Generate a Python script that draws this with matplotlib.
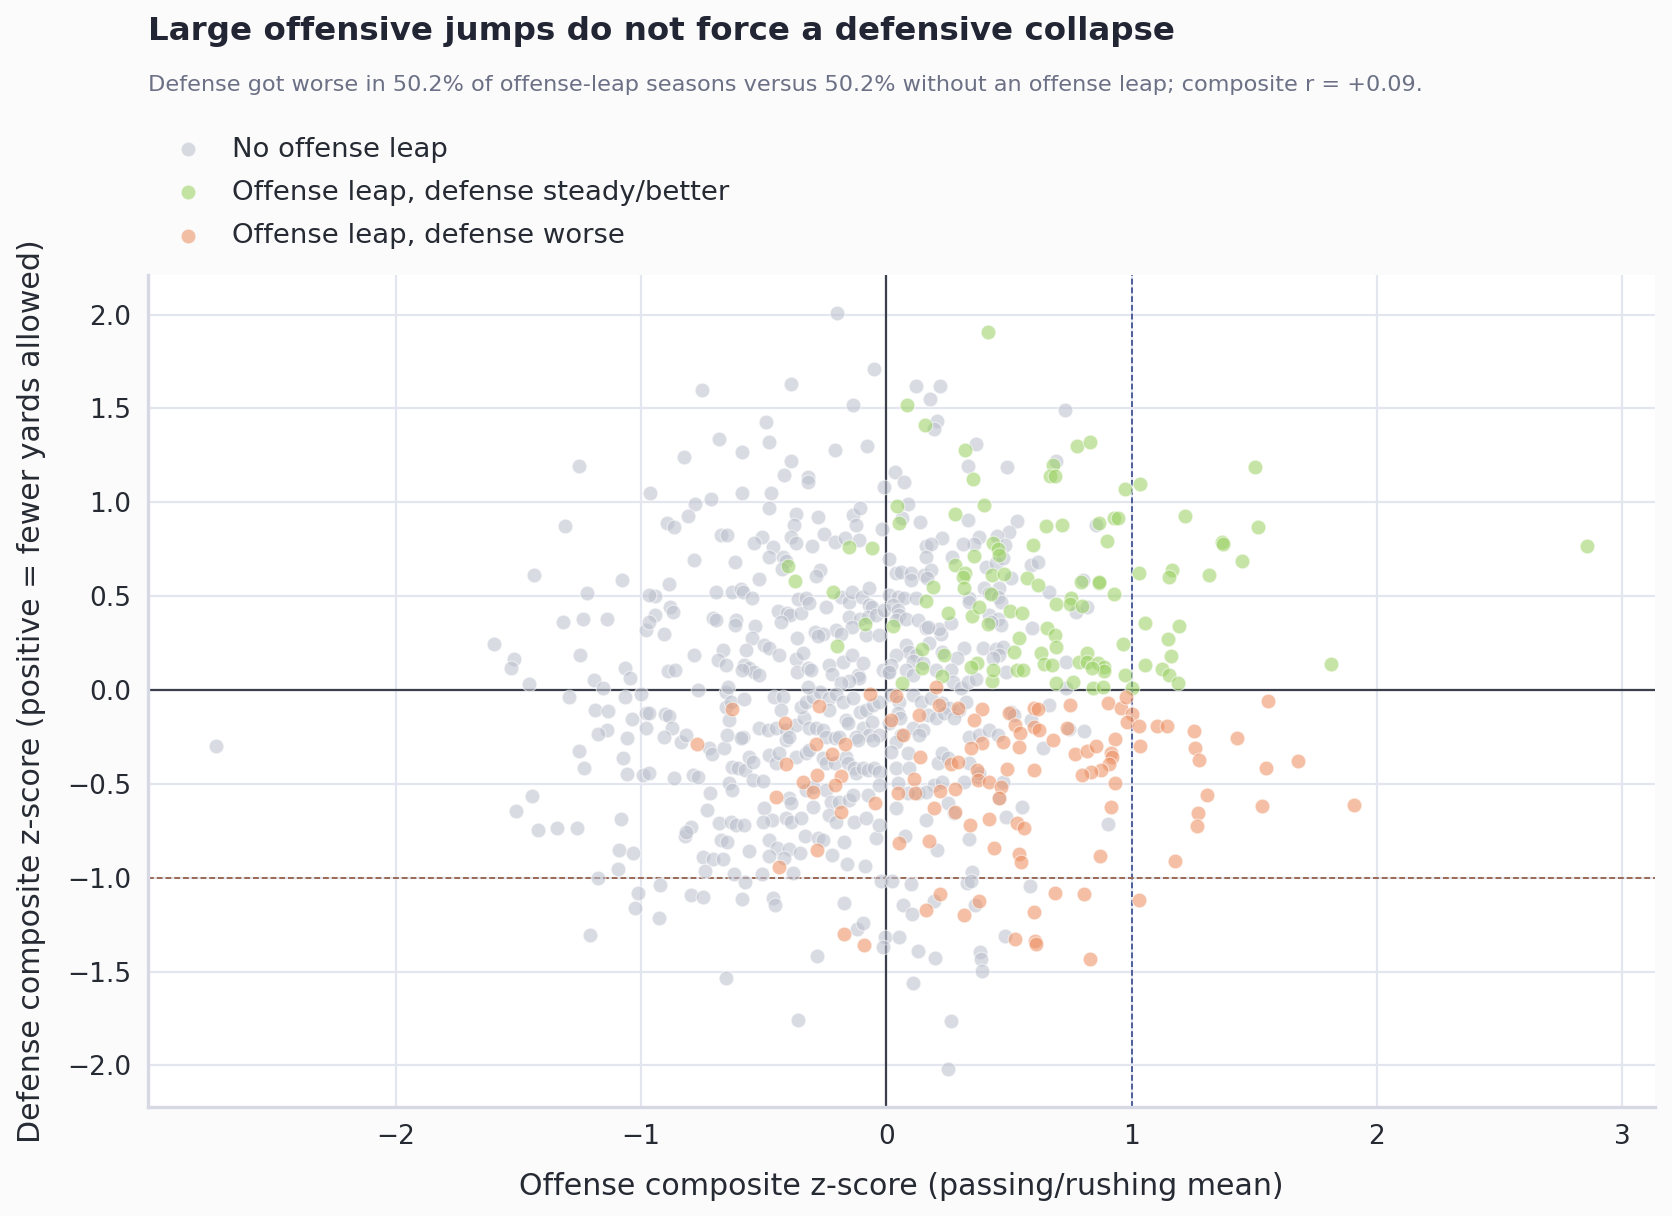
import matplotlib.pyplot as plt
import numpy as np

# (offense z, defense z) per team-season
no_leap_points = [
    (-0.20, 2.01), (-0.05, 1.71), (-0.75, 1.60), (-0.39, 1.63), (0.12, 1.62), (0.22, 1.62), (0.18, 1.55),
    (-0.135, 1.52), (-0.49, 1.43), (0.73, 1.49), (0.205, 1.435), (0.195, 1.39), (-0.68, 1.34), (-0.48, 1.32),
    (-0.825, 1.24), (-0.59, 1.27), (-0.21, 1.28), (-0.08, 1.30), (0.364, 1.31), (-0.39, 1.22), (0.333, 1.195),
    (0.49, 1.19), (0.69, 1.22), (-0.417, 1.145), (-0.32, 1.135), (-0.32, 1.11), (0.034, 1.16), (0.073, 1.106),
    (-0.008, 1.08), (-0.963, 1.05), (-0.587, 1.05), (-0.47, 1.05), (-0.715, 1.02), (-0.78, 0.99), (-0.48, 0.97),
    (0.09, 0.99), (-0.81, 0.927), (-0.894, 0.888), (-0.865, 0.869), (-0.366, 0.94), (-0.377, 0.879),
    (-0.277, 0.92), (-0.137, 0.93), (-0.106, 0.97), (-0.125, 0.88), (-0.018, 0.86), (0.066, 0.915),
    (0.136, 0.894), (0.331, 0.906), (0.534, 0.90), (0.50, 0.84), (0.378, 0.813), (0.45, 0.82), (0.855, 0.88),
    (0.484, 0.772), (0.357, 0.78), (0.313, 0.78), (0.228, 0.81), (0.16, 0.768), (0.183, 0.78), (-0.675, 0.826),
    (-0.65, 0.826), (-0.507, 0.813), (-0.54, 0.785), (-0.463, 0.763), (-0.39, 0.818), (-0.37, 0.786),
    (-0.304, 0.77), (-0.252, 0.83), (-0.208, 0.79), (-0.17, 0.81), (-0.11, 0.80),
    (-1.253, 1.195), (-1.31, 0.875),
    (-1.435, 0.613), (-1.079, 0.586), (-1.22, 0.515), (-0.944, 0.50), (-1.317, 0.362), (-1.238, 0.38),
    (-1.138, 0.38), (-0.98, 0.32), (-1.597, 0.243), (-1.519, 0.163), (-1.53, 0.12), (-1.247, 0.185),
    (-1.067, 0.12), (-1.046, 0.065), (-1.193, 0.052), (-1.155, 0.011), (-1.455, 0.034), (-1.292, -0.035),
    (-1.067, -0.039), (-1.0, -0.02), (-1.186, -0.105), (-1.134, -0.11), (-0.98, -0.12), (-1.035, -0.155),
    (-0.98, -0.204), (-1.137, -0.211), (-1.176, -0.236), (-1.057, -0.257), (-2.73, -0.296), (-1.252, -0.325),
    (-1.075, -0.364), (-1.233, -0.417), (-1.056, -0.447), (-0.99, -0.452), (-1.442, -0.565), (-1.508, -0.646),
    (-1.08, -0.686), (-1.418, -0.745), (-1.344, -0.737), (-1.26, -0.737),
    (-1.09, -0.85), (-1.031, -0.867), (-1.092, -0.955), (-1.174, -1.003), (-1.012, -1.08), (-1.026, -1.16),
    (-1.207, -1.304),
    (-0.82, -0.78), (-0.674, -0.80), (-0.65, -0.81), (-0.558, -0.858), (-0.477, -0.80), (-0.447, -0.843),
    (-0.398, -0.847), (-0.35, -0.867), (-0.417, -0.897), (-0.479, -0.883), (-0.749, -0.891), (-0.708, -0.9),
    (-0.665, -0.9), (-0.222, -0.879), (-0.172, -0.808), (-0.33, -0.78), (-0.28, -0.79), (-0.26, -0.80),
    (-0.04, -0.787), (-0.74, -0.962), (-0.62, -0.982), (-0.507, -0.98), (-0.382, -0.973), (-0.159, -0.929),
    (-0.086, -0.938), (-0.923, -1.039), (-0.576, -1.023), (-0.795, -1.094), (-0.746, -1.103), (-0.59, -1.115),
    (-0.462, -1.11), (-0.453, -1.146), (-0.174, -1.133), (-0.925, -1.213), (-0.02, -1.018), (0.023, -1.016),
    (0.102, -1.035), (0.076, -0.778), (0.205, -0.853), (0.338, -0.796), (0.349, -0.968), (0.329, -1.027),
    (0.345, -1.018), (0.587, -1.043), (0.194, -1.124), (0.362, -1.146), (0.069, -1.146), (0.105, -1.192),
    (-0.119, -1.275), (-0.094, -1.241), (-0.004, -1.314), (-0.014, -1.369), (0.052, -1.314), (-0.284, -1.417),
    (0.128, -1.389), (0.198, -1.43), (0.484, -1.309), (0.383, -1.395), (0.386, -1.433), (0.391, -1.495),
    (-0.655, -1.532), (0.109, -1.562), (-0.36, -1.76), (0.263, -1.765), (0.251, -2.02),
    (-0.785, 0.695), (-0.618, 0.68), (-0.477, 0.71), (-0.423, 0.71), (-0.41, 0.69), (-0.425, 0.645),
    (-0.27, 0.64), (-0.286, 0.61), (-0.519, 0.59), (-0.887, 0.563), (-0.694, 0.524), (-0.627, 0.524),
    (-0.593, 0.54), (-0.586, 0.524), (-0.549, 0.492), (-0.966, 0.505), (-0.882, 0.443), (-0.871, 0.417),
    (-0.942, 0.40), (-0.966, 0.364), (-0.907, 0.296), (-0.708, 0.385), (-0.694, 0.372), (-0.613, 0.372),
    (-0.616, 0.346), (-0.537, 0.343), (-0.44, 0.42), (-0.403, 0.408), (-0.392, 0.40), (-0.348, 0.413),
    (-0.429, 0.364), (-0.36, 0.483), (-0.327, 0.488), (-0.314, 0.462), (-0.246, 0.44), (-0.185, 0.497),
    (-0.151, 0.47), (-0.14, 0.524), (-0.10, 0.497), (-0.072, 0.542), (-0.07, 0.453), (-0.06, 0.44),
    (-0.151, 0.39), (-0.108, 0.381), (-0.076, 0.39), (-0.042, 0.40), (-0.008, 0.426), (-0.14, 0.337),
    (-0.205, 0.319), (-0.185, 0.301), (-0.29, 0.31), (-0.26, 0.30), (-0.28, 0.29), (-0.364, 0.275),
    (-0.083, 0.293), (-0.028, 0.293), (-0.548, 0.279), (-0.665, 0.213), (-0.57, 0.213), (-0.497, 0.239),
    (-0.477, 0.222), (-0.439, 0.186), (-0.783, 0.186), (-0.686, 0.16), (-0.653, 0.133), (-0.58, 0.133),
    (-0.558, 0.115), (-0.538, 0.094), (-0.589, 0.106), (-0.52, 0.08), (-0.89, 0.101), (-0.862, 0.106),
    (-0.368, 0.168), (-0.34, 0.195), (-0.365, 0.097), (-0.32, 0.115), (-0.307, 0.106), (-0.233, 0.133),
    (-0.221, 0.088), (-0.178, 0.151), (-0.14, 0.186), (-0.117, 0.08), (-0.11, 0.062), (-0.153, 0.048),
    (-0.185, 0.035), (-0.096, 0.142), (-0.015, 0.106), (0.005, 0.097), (-0.769, 0.0), (-0.652, -0.01),
    (-0.644, 0.015), (-0.655, -0.089), (-0.634, -0.062), (-0.579, -0.05), (-0.64, -0.16), (-0.90, -0.13),
    (-0.884, -0.14), (-0.966, -0.12), (-0.874, -0.20), (-0.905, -0.248), (-0.838, -0.275), (-0.817, -0.24),
    (-0.722, -0.31), (-0.709, -0.343), (-0.66, -0.31), (-0.651, -0.24), (-0.586, -0.248), (-0.593, -0.257),
    (-0.518, -0.204), (-0.484, -0.213), (-0.457, -0.035), (-0.423, -0.035), (-0.429, -0.107), (-0.449, -0.204),
    (-0.41, -0.213), (-0.368, -0.186), (-0.334, -0.15), (-0.348, -0.089), (-0.327, -0.062), (-0.30, -0.035),
    (-0.27, -0.008), (-0.32, 0.017), (-0.233, -0.044), (-0.205, -0.022), (-0.178, -0.062), (-0.137, -0.044),
    (-0.235, -0.107), (-0.164, -0.16), (-0.157, -0.178), (-0.313, -0.204), (-0.286, -0.204), (-0.26, -0.213),
    (-0.109, -0.115), (-0.082, -0.107), (-0.055, -0.08), (-0.028, -0.062), (-0.096, -0.204), (-0.058, -0.169),
    (-0.069, -0.24), (-0.028, -0.24), (-0.124, -0.248), (-0.117, -0.266), (-0.056, -0.266), (-0.245, -0.248),
    (-0.211, -0.257), (-0.191, -0.248), (-0.41, -0.266), (-0.396, -0.248), (-0.477, -0.346), (-0.449, -0.39),
    (-0.436, -0.337), (-0.368, -0.355), (-0.327, -0.337), (-0.314, -0.319), (-0.26, -0.364), (-0.245, -0.39),
    (-0.211, -0.39), (-0.164, -0.355), (-0.157, -0.39), (-0.13, -0.417), (-0.124, -0.444), (-0.096, -0.417),
    (-0.076, -0.426), (-0.049, -0.417), (-0.028, -0.435), (-0.63, -0.408), (-0.606, -0.417), (-0.575, -0.426),
    (-0.558, -0.355), (-0.542, -0.381), (-0.789, -0.453), (-0.769, -0.462), (-0.864, -0.467), (-0.966, -0.444),
    (-0.64, -0.497), (-0.629, -0.532), (-0.72, -0.55), (-0.542, -0.48), (-0.504, -0.483), (-0.396, -0.577),
    (-0.389, -0.604), (-0.327, -0.532), (-0.30, -0.515), (-0.245, -0.532), (-0.225, -0.595), (-0.191, -0.595),
    (-0.151, -0.586), (-0.137, -0.559), (-0.076, -0.56), (-0.028, -0.506), (-0.731, -0.639), (-0.497, -0.626),
    (-0.467, -0.692), (-0.501, -0.701), (-0.41, -0.683), (-0.389, -0.701), (-0.348, -0.683), (-0.30, -0.621),
    (-0.232, -0.666), (-0.205, -0.701), (-0.13, -0.701), (-0.082, -0.683), (-0.796, -0.728), (-0.817, -0.755),
    (-0.68, -0.71), (-0.633, -0.701), (-0.613, -0.719), (-0.579, -0.719), (-0.028, -0.719),
    (0.012, 0.698), (0.039, 0.622), (0.06, 0.63), (0.10, 0.622), (0.10, 0.586), (0.16, 0.711), (0.155, 0.613),
    (0.182, 0.639), (0.165, 0.595), (0.268, 0.711), (0.406, 0.657), (0.447, 0.675), (0.474, 0.702),
    (0.508, 0.595), (0.59, 0.666), (0.617, 0.684), (0.399, 0.545), (0.46, 0.542), (0.42, 0.515), (0.454, 0.497),
    (0.467, 0.47), (0.338, 0.488), (0.338, 0.47), (0.012, 0.506), (0.046, 0.497), (0.073, 0.488), (0.12, 0.488),
    (0.026, 0.453), (0.046, 0.426), (0.053, 0.40), (0.039, 0.372), (0.08, 0.381), (0.128, 0.372), (0.42, 0.399),
    (0.454, 0.381), (0.467, 0.346), (0.427, 0.364), (0.664, 0.524), (0.773, 0.417), (0.82, 0.444),
    (0.594, 0.328), (0.162, 0.328), (0.222, 0.301), (0.216, 0.324), (0.264, 0.355), (0.393, 0.225),
    (0.447, 0.218), (0.474, 0.23), (0.318, 0.226), (0.287, 0.173), (0.08, 0.24), (0.093, 0.204), (0.12, 0.187),
    (0.107, 0.155), (0.148, 0.142), (0.175, 0.249), (0.168, 0.337), (0.229, 0.204), (0.039, 0.187),
    (0.019, 0.133), (0.012, 0.097), (0.08, 0.106), (0.107, 0.08), (0.202, 0.106), (0.264, 0.106), (0.27, 0.044),
    (0.304, 0.009), (0.331, 0.044), (0.366, 0.058), (0.46, 0.187), (0.433, 0.169), (0.488, 0.097),
    (0.733, 0.151), (0.733, 0.009), (0.80, 0.586), (0.019, -0.026), (0.053, -0.062), (0.107, -0.026),
    (0.141, -0.062), (0.182, -0.044), (0.229, -0.07), (0.257, -0.097), (0.298, -0.106), (0.325, -0.062),
    (0.168, -0.133), (0.202, -0.151), (0.236, -0.124), (0.277, -0.151), (0.046, -0.124), (0.055, -0.151),
    (0.012, -0.178), (0.107, -0.204), (0.148, -0.213), (0.132, -0.239), (0.06, -0.239), (0.039, -0.275),
    (0.508, -0.115), (0.522, -0.133), (0.59, -0.16), (0.664, -0.08), (0.746, -0.21), (0.807, -0.22),
    (0.338, -0.248), (0.379, -0.239), (0.42, -0.213), (0.454, -0.239), (0.637, -0.31), (0.019, -0.328),
    (0.087, -0.337), (0.039, -0.417), (0.093, -0.417), (0.209, -0.39), (0.229, -0.337), (0.25, -0.364),
    (0.338, -0.39), (0.195, -0.506), (0.229, -0.488), (0.318, -0.488), (0.372, -0.462), (0.379, -0.444),
    (0.474, -0.488), (0.46, -0.577), (0.046, -0.497), (0.039, -0.63), (0.128, -0.551), (0.087, -0.551),
    (0.162, -0.541), (0.25, -0.604), (0.277, -0.657), (0.162, -0.692), (0.487, -0.675), (0.555, -0.625),
    (0.902, -0.715),
]

leap_steady_points = [
    (0.416, 1.905), (0.086, 1.52), (0.156, 1.41), (0.32, 1.28), (0.777, 1.30), (0.83, 1.32), (0.353, 1.124),
    (0.678, 1.20), (0.668, 1.14), (0.686, 1.14), (0.973, 1.07), (1.033, 1.10), (0.044, 0.98), (0.397, 0.985),
    (0.05, 0.888), (0.281, 0.936), (0.65, 0.875), (0.717, 0.88), (0.866, 0.89), (0.927, 0.918), (0.943, 0.915),
    (0.898, 0.794), (0.596, 0.772), (0.433, 0.785), (0.457, 0.75), (-0.152, 0.76), (-0.057, 0.755),
    (1.504, 1.186), (1.219, 0.925), (1.515, 0.867), (1.368, 0.79), (1.373, 0.776), (2.855, 0.765),
    (1.449, 0.69), (1.163, 0.64), (1.151, 0.60), (1.314, 0.614), (1.193, 0.341), (1.15, 0.272), (1.16, 0.183),
    (1.123, 0.11), (1.154, 0.08), (1.188, 0.039), (1.811, 0.14),
    (-0.40, 0.66), (-0.374, 0.582), (-0.217, 0.52), (-0.087, 0.351), (-0.199, 0.234), (0.028, 0.341),
    (0.16, 0.476), (0.189, 0.55), (0.279, 0.666), (0.322, 0.622), (0.311, 0.604), (0.359, 0.714),
    (0.315, 0.545), (0.35, 0.394), (0.379, 0.44), (0.414, 0.35), (0.427, 0.51), (0.43, 0.613), (0.478, 0.618),
    (0.458, 0.72), (0.504, 0.42), (0.553, 0.41), (0.573, 0.595), (0.62, 0.56), (0.54, 0.279), (0.522, 0.204),
    (0.629, 0.20), (0.654, 0.332), (0.688, 0.293), (0.69, 0.227), (0.641, 0.137), (0.674, 0.133),
    (0.533, 0.106), (0.559, 0.106), (0.69, 0.458), (0.751, 0.488), (0.75, 0.458), (0.797, 0.449),
    (0.795, 0.577), (0.866, 0.568), (0.866, 0.577), (0.927, 0.51), (0.966, 0.248), (1.03, 0.625),
    (1.053, 0.355), (1.053, 0.133), (0.784, 0.151), (0.819, 0.195), (0.818, 0.151), (0.861, 0.142),
    (0.889, 0.124), (0.886, 0.101), (0.838, 0.115), (0.971, 0.08), (0.759, 0.044), (0.693, 0.037),
    (0.842, 0.012), (0.883, 0.016), (1.0, 0.01), (0.432, 0.048), (0.436, 0.106), (0.37, 0.142), (0.345, 0.124),
    (0.229, 0.076), (0.252, 0.408), (0.234, 0.187), (0.145, 0.217), (0.145, 0.115), (0.063, 0.04),
]

leap_worse_points = [
    (-0.065, -0.02), (-0.273, -0.085), (-0.63, -0.103), (-0.413, -0.178), (-0.771, -0.288), (-0.288, -0.286),
    (-0.222, -0.343), (-0.41, -0.394), (-0.186, -0.456), (-0.167, -0.288), (-0.338, -0.488), (-0.284, -0.455),
    (-0.209, -0.506), (-0.30, -0.545), (-0.45, -0.572), (-0.185, -0.652), (-0.046, -0.603), (0.04, -0.033),
    (0.202, 0.015), (0.216, -0.08), (0.294, -0.094), (0.391, -0.101), (0.358, -0.158), (0.132, -0.135),
    (0.018, -0.16), (0.067, -0.239), (0.138, -0.355), (0.50, -0.124), (0.60, -0.094), (0.617, -0.10),
    (0.75, -0.08), (0.905, -0.069), (0.957, -0.097), (0.977, -0.035), (1.0, -0.13), (0.983, -0.169),
    (1.029, -0.19), (0.525, -0.187), (0.545, -0.231), (0.60, -0.196), (0.621, -0.213), (0.735, -0.204),
    (0.474, -0.279), (0.389, -0.284), (0.347, -0.31), (0.542, -0.306), (0.678, -0.268), (0.931, -0.263),
    (1.035, -0.297), (0.771, -0.341), (0.818, -0.325), (0.855, -0.297), (0.914, -0.337), (0.921, -0.355),
    (0.906, -0.396), (0.875, -0.426), (0.836, -0.439), (0.798, -0.453), (0.934, -0.497), (0.917, -0.623),
    (0.492, -0.42), (0.60, -0.425), (0.264, -0.394), (0.291, -0.382), (0.368, -0.425), (0.372, -0.479),
    (0.42, -0.488), (0.468, -0.515), (0.458, -0.574), (0.114, -0.476), (0.046, -0.549), (0.118, -0.551),
    (0.22, -0.538), (0.281, -0.527), (0.193, -0.627), (0.281, -0.648), (0.417, -0.687), (0.34, -0.719),
    (0.533, -0.71), (0.563, -0.737),
    (1.555, -0.059), (1.102, -0.193), (1.146, -0.193), (1.254, -0.218), (1.431, -0.257), (1.258, -0.31),
    (1.273, -0.374), (1.549, -0.415), (1.68, -0.378), (1.309, -0.559), (1.53, -0.616), (1.906, -0.611),
    (1.269, -0.657), (1.265, -0.723),
    (-0.284, -0.853), (-0.439, -0.943), (0.052, -0.817), (0.173, -0.805), (0.439, -0.84), (0.54, -0.874),
    (0.549, -0.918), (0.871, -0.886), (0.22, -1.088), (0.377, -1.124), (0.689, -1.081), (0.805, -1.086),
    (1.03, -1.12), (0.162, -1.17), (0.315, -1.20), (0.60, -1.18), (-0.172, -1.302), (-0.091, -1.359),
    (0.523, -1.325), (0.606, -1.337), (0.61, -1.355), (0.83, -1.433), (1.178, -0.913),
]

group_labels = ["No offense leap", "Offense leap, defense steady/better", "Offense leap, defense worse"]
leap_threshold = 1.0
collapse_threshold = -1.0

colors = ["#bcc1cd", "#9bd264", "#ed9264"]

plt.rcParams["font.family"] = ["DejaVu Sans"]
fig = plt.figure(figsize=(8.36, 6.08), dpi=200, facecolor="#fbfbfc")
ax = fig.add_axes([0.0885, 0.0896, 0.9015, 0.6843])
ax.set_facecolor("white")

handles = []
for pts, label, color in zip([no_leap_points, leap_steady_points, leap_worse_points], group_labels, colors):
    arr = np.array(pts)
    h = ax.scatter(arr[:, 0], arr[:, 1], s=28, color=color, alpha=0.58,
                   edgecolor="white", linewidth=0.4, label=label, zorder=3)
    handles.append(h)

ax.axhline(0, color="#3a3f4b", linewidth=0.8, zorder=2)
ax.axvline(0, color="#3a3f4b", linewidth=0.8, zorder=2)
ax.axvline(leap_threshold, color="#4c5e9a", linestyle="--", linewidth=0.7, dashes=(3, 1.5), zorder=2)
ax.axhline(collapse_threshold, color="#9a6a55", linestyle="--", linewidth=0.7, dashes=(3, 1.5), zorder=2)

ax.set_xticks([-2, -1, 0, 1, 2, 3])
ax.set_yticks(np.arange(-2.0, 2.01, 0.5))
ax.grid(True, color="#e3e6ee", linewidth=0.8, zorder=0)
ax.set_axisbelow(True)
ax.tick_params(length=0, labelsize=9.5, labelcolor="#262a33", pad=6)
for side in ["top", "right"]:
    ax.spines[side].set_visible(False)
for side in ["left", "bottom"]:
    ax.spines[side].set_color("#d6d9e4")
    ax.spines[side].set_linewidth(1.2)

ax.set_xlabel("Offense composite z-score (passing/rushing mean)", fontsize=10.8, color="#262a33", labelpad=8)
ax.set_ylabel("Defense composite z-score (positive = fewer yards allowed)", fontsize=10.8, color="#262a33", labelpad=7.5)

fig.text(0.0885, 0.974, "Large offensive jumps do not force a defensive collapse",
         fontsize=11.7, fontweight="bold", color="#222533", va="center", ha="left")
fig.text(0.0885, 0.930,
         "Defense got worse in 50.2% of offense-leap seasons versus 50.2% without an offense leap; composite r = +0.09.",
         fontsize=8.07, color="#6b7085", va="center", ha="left")

fig.legend(handles=handles, labels=group_labels, loc="upper left", bbox_to_anchor=(0.081, 0.908),
           frameon=False, fontsize=9.9, labelspacing=0.62, handletextpad=0.6, markerscale=1.0,
           labelcolor="#262a33")

plt.savefig("out.png", dpi=200, facecolor=fig.get_facecolor())
